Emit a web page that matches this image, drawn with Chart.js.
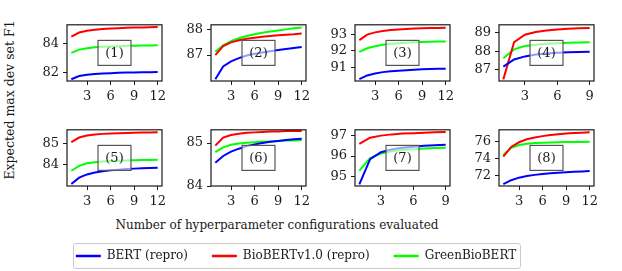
<!DOCTYPE html>
<html>
<head>
<meta charset="utf-8">
<script src="https://cdn.jsdelivr.net/npm/chart.js@4.4.1/dist/chart.umd.min.js"></script>
<style>
body{margin:0;background:#fff;width:622px;height:271px;position:relative;overflow:hidden;font-family:"DejaVu Serif",serif;color:#1a1a1a}
canvas{position:absolute}
.ylab{position:absolute;left:9px;top:100px;transform:translate(-50%,-50%) rotate(-90deg);white-space:nowrap;font-size:12.5px}
.xlab{position:absolute;left:277px;top:225px;transform:translate(-50%,-50%);white-space:nowrap;font-size:12px}
.legbox{position:absolute;left:73px;top:243px;width:446px;height:24px;border:1px solid #ccc;border-radius:3px}
</style>
</head>
<body>
<div class="ylab">Expected max dev set F1</div>
<div class="xlab">Number of hyperparameter configurations evaluated</div>
<div class="legbox"></div>
<script>
// x values (number of configs tried)
const xs12 = [1,2,3,4,5,6,7,8,9,10,11,12]
const xs9 = [1,2,3,4,5,6,7,8,9]
const panelNames = ['(1)','(2)','(3)','(4)','(5)','(6)','(7)','(8)']
const seriesNames = ['BERT (repro)','BioBERTv1.0 (repro)','GreenBioBERT']

// one list per panel
const bertRepro = [
  [81.56,81.78,81.87,81.92,81.96,81.98,82.0,82.02,82.03,82.04,82.05,82.06],
  [86.05,86.55,86.75,86.88,86.98,87.05,87.1,87.15,87.2,87.24,87.28,87.32],
  [90.27,90.5,90.62,90.7,90.75,90.79,90.82,90.85,90.87,90.89,90.9,90.91],
  [87.16,87.55,87.72,87.82,87.88,87.92,87.94,87.96,87.97],
  [83.1,83.4,83.55,83.64,83.7,83.74,83.77,83.8,83.82,83.84,83.85,83.86],
  [84.54,84.7,84.8,84.87,84.93,84.97,85.0,85.03,85.05,85.07,85.09,85.1],
  [94.64,95.85,96.18,96.32,96.4,96.45,96.49,96.52,96.54],
  [70.98,71.45,71.75,71.95,72.08,72.18,72.27,72.33,72.39,72.44,72.49,72.53]
]
const bioBertRepro = [
  [84.5,84.78,84.9,84.97,85.02,85.06,85.08,85.1,85.12,85.13,85.14,85.15],
  [87.0,87.35,87.5,87.58,87.64,87.68,87.72,87.75,87.78,87.8,87.82,87.85],
  [92.65,92.98,93.12,93.2,93.26,93.3,93.33,93.35,93.37,93.38,93.39,93.4],
  [86.47,88.5,88.9,89.05,89.13,89.18,89.22,89.25,89.27],
  [85.06,85.27,85.36,85.41,85.44,85.46,85.47,85.48,85.49,85.5,85.5,85.51],
  [84.94,85.13,85.19,85.22,85.24,85.25,85.26,85.27,85.27,85.28,85.28,85.28],
  [96.58,96.88,96.98,97.04,97.08,97.1,97.12,97.14,97.15],
  [74.25,75.4,75.95,76.3,76.52,76.68,76.8,76.9,76.98,77.04,77.09,77.13]
]
const greenBioBert = [
  [83.38,83.6,83.7,83.76,83.8,83.82,83.84,83.86,83.87,83.88,83.89,83.9],
  [87.13,87.38,87.55,87.66,87.75,87.82,87.88,87.93,87.97,88.01,88.05,88.08],
  [91.93,92.15,92.28,92.36,92.42,92.46,92.49,92.52,92.54,92.55,92.56,92.57],
  [87.62,88.1,88.28,88.36,88.41,88.44,88.46,88.48,88.49],
  [83.72,83.95,84.07,84.12,84.15,84.17,84.19,84.2,84.21,84.22,84.22,84.23],
  [84.79,84.9,84.96,84.99,85.01,85.02,85.03,85.04,85.05,85.06,85.06,85.07],
  [95.3,95.9,96.12,96.23,96.29,96.33,96.36,96.38,96.4],
  [74.43,75.3,75.62,75.77,75.85,75.9,75.93,75.95,75.97,75.98,75.99,76.0]
]
const yTicks = [[82,84],[87,88],[91,92,93],[87,88,89],[84,85],[84,85],[95,96,97],[72,74,76]]
const xTicks12 = [3,6,9,12]
const xTicks9 = [3,6,9]

// axis limits (matplotlib-ish)
const yLims = [[81.44,85.31],[85.98,88.19],[90.16,93.58],[86.38,89.44],[83.01,85.63],[84.0,85.31],[94.56,97.26],[70.76,77.43]]
const colors = ['#0000ff','#ff0000','#00ff00']

const plotLefts = [67,211,355,499]
const plotTops = [18,123]
const plotW = 95, plotH = 63
const padL = 45, padT = 5, padR = 12, padB = 24
const tickFont = {family:'DejaVu Serif', size:13}

const framePlugin = {
  id: 'frame',
  afterDraw(chart, args, opts) {
    const ctx = chart.ctx, a = chart.chartArea
    ctx.save()
    ctx.strokeStyle = '#1a1a1a'
    ctx.lineWidth = 1.2
    ctx.strokeRect(a.left, a.top, a.right - a.left, a.bottom - a.top)
    // label box in the middle
    const cx = (a.left + a.right) / 2, cy = (a.top + a.bottom) / 2
    const bw = 33, bh = 25
    ctx.fillStyle = 'rgba(255,255,255,0.6)'
    ctx.fillRect(cx - bw/2, cy - bh/2, bw, bh)
    ctx.strokeStyle = '#555'
    ctx.lineWidth = 1.2
    ctx.strokeRect(cx - bw/2, cy - bh/2, bw, bh)
    ctx.fillStyle = '#1a1a1a'
    ctx.font = '13px "DejaVu Serif"'
    ctx.textAlign = 'center'
    ctx.textBaseline = 'middle'
    ctx.fillText(opts.name, cx, cy + 1)
    ctx.restore()
  }
}

function makePanel(i) {
  const cv = document.createElement('canvas')
  const W = padL + plotW + padR, H = padT + plotH + padB
  cv.width = W; cv.height = H
  cv.style.left = (plotLefts[i % 4] - padL) + 'px'
  cv.style.top = (plotTops[Math.floor(i / 4)] - padT) + 'px'
  document.body.appendChild(cv)

  const n = bertRepro[i].length
  const xs = n == 12 ? xs12 : xs9
  const xt = n == 12 ? xTicks12 : xTicks9
  const series = [bertRepro[i], bioBertRepro[i], greenBioBert[i]]

  new Chart(cv, {
    type: 'line',
    data: {
      datasets: series.map(function(s, k) {
        return {
          label: seriesNames[k],
          data: xs.map(function(x, j) { return {x: x, y: s[j]} }),
          borderColor: colors[k],
          borderWidth: 2,
          pointRadius: 0,
          tension: 0
        }
      })
    },
    options: {
      responsive: false,
      animation: false,
      layout: {padding: {top: padT, right: padR}},
      plugins: {legend: {display: false}, tooltip: {enabled: false}, frame: {name: panelNames[i]}},
      scales: {
        x: {
          type: 'linear',
          min: n == 12 ? 0.45 : 0.6,
          max: n == 12 ? 12.55 : 9.4,
          afterBuildTicks: function(s) { s.ticks = xt.map(function(v) { return {value: v} }) },
          afterFit: function(s) { s.height = padB },
          grid: {drawOnChartArea: false, tickLength: 4, tickColor: '#1a1a1a', tickWidth: 1},
          border: {display: false},
          ticks: {padding: 4, font: tickFont, color: '#1a1a1a', autoSkip: false, maxRotation: 0}
        },
        y: {
          min: yLims[i][0],
          max: yLims[i][1],
          afterBuildTicks: function(s) { s.ticks = yTicks[i].map(function(v) { return {value: v} }) },
          afterFit: function(s) { s.width = padL },
          grid: {drawOnChartArea: false, tickLength: 4, tickColor: '#1a1a1a', tickWidth: 1},
          border: {display: false},
          ticks: {padding: 4, font: tickFont, color: '#1a1a1a', autoSkip: false}
        }
      }
    },
    plugins: [framePlugin]
  })
}

for (let i = 0; i < 8; i++) makePanel(i)

// legend (canvas is tall so the legend is not cut; lower part is off screen)
const lc = document.createElement('canvas')
lc.width = 592; lc.height = 140
lc.style.left = '0px'; lc.style.top = '226px'
document.body.appendChild(lc)
new Chart(lc, {
  type: 'line',
  data: {
    datasets: seriesNames.map(function(name, k) {
      return {label: name, data: [], borderColor: colors[k], backgroundColor: colors[k], borderWidth: 2.5}
    })
  },
  options: {
    responsive: false,
    animation: false,
    scales: {x: {display: false}, y: {display: false}},
    plugins: {
      tooltip: {enabled: false},
      legend: {
        display: true,
        position: 'top',
        labels: {
          usePointStyle: true,
          pointStyle: 'line',
          pointStyleWidth: 25,
          padding: 24,
          color: '#1a1a1a',
          font: {family: 'DejaVu Serif', size: 12}
        }
      }
    }
  }
})
</script>
</body>
</html>
